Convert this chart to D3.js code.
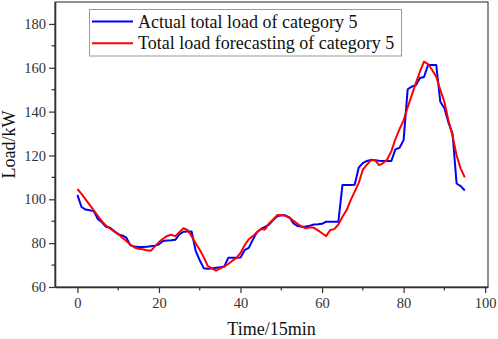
<!DOCTYPE html>
<html>
<head>
<meta charset="utf-8">
<script src="https://cdn.jsdelivr.net/npm/d3@7/dist/d3.min.js"></script>
<style>
  body { margin: 0; background: #fff; }
  svg { display: block; }
  text { font-family: "Liberation Serif", "Times New Roman", serif; }
</style>
</head>
<body>
<div id="chart"></div>
<script>
const seriesNames = ["Actual total load of category 5", "Total load forecasting of category 5"];
const seriesColors = ["#0000ff", "#ff0000"];
const actual = [
  102, 96.5, 95.3, 95, 94.6, 91, 89.5, 87.5, 87, 85.5,
  84, 83.5, 82.5, 79, 78.5, 78.2, 78.2, 78.4, 78.6, 78.8,
  79.5, 81, 81.2, 81.3, 81.5, 84, 85.2, 85.3, 85.3, 76.5,
  72.2, 68.5, 68.3, 68.4, 68.8, 69, 69.3, 73.3, 73.3, 73.3,
  73.5, 76.8, 77.8, 81.5, 85, 86.5, 87.4, 88.5, 90.5, 92.3,
  92.7, 92.7, 91.8, 89, 87.8, 87.5, 87.6, 88, 88.5, 88.6,
  88.8, 89.8, 89.8, 89.8, 89.8, 106.5, 106.5, 106.5, 106.6, 114.5,
  116.5, 117.5, 118, 117.8, 117.6, 117.5, 117.5, 117.5, 122.8, 123.5,
  127, 150.2, 151.4, 152, 155.3, 155.8, 161.3, 161.3, 161.3, 144.5,
  141.5, 135, 130, 107.2, 106, 104
];
const forecast = [
  104.7, 102.5, 100, 97.5, 95, 92.5, 90, 88, 86.7, 85.3,
  84.3, 82.5, 81, 79.3, 78, 77.4, 77.2, 76.8, 76.5, 78.5,
  80.5, 82, 83.3, 83.8, 83.2, 85, 86.8, 86, 83.2, 80,
  77, 73.5, 69.5, 68.5, 67.5, 68.5, 69.3, 70.5, 72, 73.3,
  75.5, 79, 81.8, 83.2, 84.8, 86.5, 86.2, 89, 90.8, 92.8,
  92.7, 92.5, 91.5, 90.2, 88.8, 87.6, 86.8, 87.2, 87, 85.8,
  84.5, 83.2, 86, 86.4, 88.5, 92, 95, 99.5, 103.5, 107.5,
  113.5, 115.8, 117.8, 117.9, 115.6, 116.5, 118.3, 122, 127.5, 132,
  136, 142, 147.5, 153, 158.2, 162.8, 161.7, 159, 155.9, 150,
  144.5, 136, 129, 120, 114, 110
];
const xTicks = [0, 20, 40, 60, 80, 100];
const yTicks = [60, 80, 100, 120, 140, 160, 180];
const xLabel = "Time/15min";
const yLabel = "Load/kW";

const W = 498, H = 339;
const m = { left: 55, right: 10, top: 2, bottom: 52 };
const svg = d3.select("#chart").append("svg").attr("width", W).attr("height", H);

const x = d3.scaleLinear().domain([-5.5, 100.7]).range([m.left, W - m.right]);
const y = d3.scaleLinear().domain([60, 190]).range([H - m.bottom, m.top]);

// frame (top & right)
svg.append("rect")
  .attr("x", x(-5.5)).attr("y", y(190))
  .attr("width", x(100.7) - x(-5.5)).attr("height", y(60) - y(190))
  .attr("fill", "none").attr("stroke", "#222").attr("stroke-width", 1);

// minor ticks
const xMinor = d3.range(10, 100, 20);
const yMinor = d3.range(70, 190, 20);
svg.append("g").selectAll("line").data(xMinor).join("line")
  .attr("x1", d => x(d)).attr("x2", d => x(d))
  .attr("y1", y(60)).attr("y2", y(60) + 3.5)
  .attr("stroke", "#333").attr("stroke-width", 1.2);
svg.append("g").selectAll("line").data(yMinor).join("line")
  .attr("x1", x(-5.5)).attr("x2", x(-5.5) - 3.5)
  .attr("y1", d => y(d)).attr("y2", d => y(d))
  .attr("stroke", "#333").attr("stroke-width", 1.2);

const xAxis = svg.append("g").attr("transform", `translate(0,${y(60)})`)
  .call(d3.axisBottom(x).tickValues(xTicks).tickSize(6).tickSizeOuter(0).tickPadding(5));
const yAxis = svg.append("g").attr("transform", `translate(${x(-5.5)},0)`)
  .call(d3.axisLeft(y).tickValues(yTicks).tickSize(6).tickSizeOuter(0).tickPadding(3));
[xAxis, yAxis].forEach(g => {
  g.select(".domain").attr("stroke", "#333").attr("stroke-width", 1.6);
  g.selectAll(".tick line").attr("stroke", "#333").attr("stroke-width", 1.2);
  g.selectAll(".tick text").attr("fill", "#333").style("font-size", "14.5px")
    .style("font-family", '"Liberation Serif", serif');
});

svg.append("text").attr("x", (x(-5.5) + x(100.7)) / 2).attr("y", 335)
  .attr("text-anchor", "middle").style("font-size", "18px").attr("fill", "#111").text(xLabel);
svg.append("text").attr("transform", `translate(15,${(y(60) + y(190)) / 2}) rotate(-90)`)
  .attr("text-anchor", "middle").style("font-size", "18px").attr("fill", "#111").text(yLabel);

// lines
const line = d3.line().x((d, i) => x(i)).y(d => y(d));
[actual, forecast].forEach((s, k) => {
  svg.append("path").datum(s).attr("d", line)
    .attr("fill", "none").attr("stroke", seriesColors[k]).attr("stroke-width", 2)
    .attr("stroke-linejoin", "round");
});

// legend
const lg = svg.append("g");
lg.append("rect").attr("x", 89.5).attr("y", 9.5).attr("width", 312).attr("height", 46.5)
  .attr("fill", "#fff").attr("stroke", "#999").attr("stroke-width", 1);
seriesNames.forEach((n, k) => {
  const yy = 21.5 + k * 21.7;
  lg.append("line").attr("x1", 92).attr("x2", 133).attr("y1", yy).attr("y2", yy)
    .attr("stroke", seriesColors[k]).attr("stroke-width", 2);
  lg.append("text").attr("x", 138).attr("y", yy + 6).style("font-size", "18px")
    .attr("fill", "#111").text(n);
});
</script>
</body>
</html>
